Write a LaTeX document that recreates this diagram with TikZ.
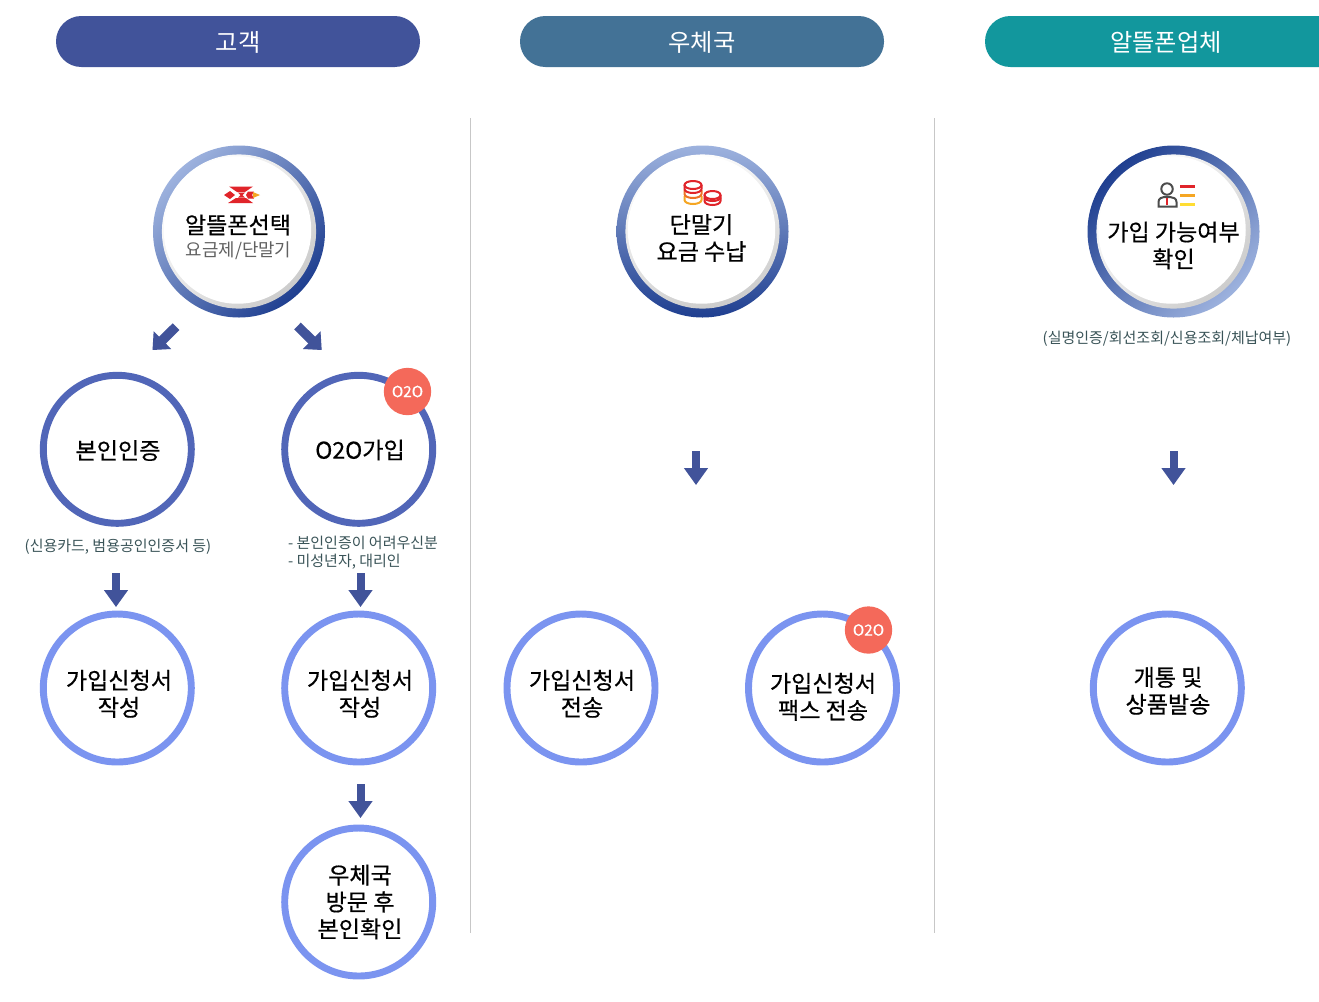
\documentclass[tikz,border=0pt]{standalone}
\usepackage{fontspec}
\setmainfont{Noto Sans CJK KR}
\newfontfamily\semi[FakeBold=0.5]{Noto Sans CJK KR}
\usetikzlibrary{arrows.meta}
\definecolor{pillA}{HTML}{41539A}
\definecolor{pillB}{HTML}{437296}
\definecolor{pillC}{HTML}{12979D}
\definecolor{ringA}{HTML}{5166B8}
\definecolor{ringB}{HTML}{7B94F0}
\definecolor{badgecol}{HTML}{F4695A}
\definecolor{arrowcol}{HTML}{41539A}
\definecolor{capcol}{HTML}{3A5458}
\definecolor{lightring}{HTML}{9DB2DE}
\definecolor{darkring}{HTML}{1F3F90}
\definecolor{icored}{HTML}{E0242A}
\definecolor{icoorange}{HTML}{F5A623}
\definecolor{icoyellow}{HTML}{FFDD33}
\tikzset{
  x=0.75pt,y=-0.75pt,
  pill/.style={rounded corners=19pt},
  pilltext/.style={text=white,font=\fontsize{18.2}{22}\selectfont,inner sep=0pt},
  ringnode/.style={circle,draw,line width=5.2pt,minimum size=111pt,inner sep=0pt,fill=white},
  ringa/.style={ringnode,draw=ringA},
  ringb/.style={ringnode,draw=ringB},
  badge/.style={circle,fill=badgecol,minimum size=35.5pt,inner sep=0pt,text=white,font=\semi\fontsize{11.5}{13}\selectfont},
  bigtext/.style={align=center,inner sep=0pt,text=black,font=\semi\fontsize{17.3}{20.2}\selectfont},
  capt/.style={inner sep=0pt,text=capcol,align=left,font=\fontsize{11.25}{13.5}\selectfont},
  blockarr/.style={draw=arrowcol,line width=6pt,-{Triangle[length=12.75pt,width=17.25pt]}},
  blockshadow/.style={draw=arrowcol!22,line width=6pt,-{Triangle[length=12.75pt,width=17.25pt]},xshift=1.1pt,yshift=-1.1pt},
  diagarr/.style={draw=arrowcol,line width=7.1pt,-{Triangle[length=10.5pt,width=18pt]}},
  diagshadow/.style={draw=arrowcol!22,line width=7.1pt,-{Triangle[length=10.5pt,width=18pt]},xshift=1.1pt,yshift=-1.1pt},
  divider/.style={draw=black!22,line width=0.75pt},
}
\begin{document}
\begin{tikzpicture}
\useasboundingbox (0,0) rectangle (1319,1001);
\clip (0,0) rectangle (1319,1001);
\fill[white] (0,0) rectangle (1319,1001);
% pills
\fill[pill,pillA] (56,16) rectangle (420,67);
\fill[pill,pillB] (520,16) rectangle (884,67);
\fill[pill,pillC] (985,16) rectangle (1380,67);
\node[pilltext] (h1) at (238,42.5) {고객};
\node[pilltext] (h2) at (702,42.5) {우체국};
\node[pilltext] (h3) at (1166,42.5) {알뜰폰업체};
% dividers
\coordinate (d1a) at (470.5,118); \coordinate (d1b) at (470.5,933);
\coordinate (d2a) at (934.5,118); \coordinate (d2b) at (934.5,933);
\draw[divider] (d1a) -- (d1b);
\draw[divider] (d2a) -- (d2b);
% big ring 1
\shade[even odd rule,top color=lightring,bottom color=darkring,shading angle=45]
  (239,231.5) circle[radius=64.5pt] (239,231.5) circle[radius=57.5pt];
\shade[top color=white,bottom color=black!20,shading angle=45] (239,231.5) circle[radius=57.8pt];
\fill[white] (237.5,230) circle[radius=55.3pt];
% big ring 2
\shade[even odd rule,top color=lightring,bottom color=darkring]
  (702.5,231.5) circle[radius=64.5pt] (702.5,231.5) circle[radius=57.5pt];
\shade[top color=white,bottom color=black!20,shading angle=20] (702.5,231.5) circle[radius=57.8pt];
\fill[white] (701.5,230) circle[radius=55.3pt];
% big ring 3
\shade[even odd rule,top color=darkring,bottom color=lightring,shading angle=45]
  (1173.5,231.5) circle[radius=64.5pt] (1173.5,231.5) circle[radius=57.5pt];
\shade[top color=white,bottom color=black!20,shading angle=45] (1173.5,231.5) circle[radius=57.8pt];
\fill[white] (1172,230) circle[radius=55.3pt];
% big texts
\node[bigtext] (t1) at (238,225) {알뜰폰선택};
\node[inner sep=0pt,text=black!62,font=\fontsize{13.4}{16}\selectfont] (t1b) at (238.5,251) {요금제/단말기};
\node[bigtext] (t2) at (701.5,238) {단말기\\요금 수납};
\node[bigtext] (t3) at (1173.5,245.5) {가입 가능여부\\확인};
% icon 1
\fill[icored] (229,186.5) -- (253,186.5) -- (245,192) -- (237,192) -- cycle;
\fill[icored] (228,203) -- (253,203) -- (246,198) -- (236,198) -- cycle;
\fill[icored] (224,195) -- (230,191) -- (235,195) -- (230,199) -- cycle;
\fill[icored] (238,192.5) -- (245,192.5) -- (242.5,195) -- (245,197.5) -- (238,197.5) -- (240.5,195) -- cycle;
\fill[icored] (248,191.5) -- (254,191.5) -- (252,195) -- (254,198.5) -- (248,198.5) -- (246,195) -- cycle;
\fill[icoorange] (253,192) -- (260,195) -- (253,198) -- cycle;
% icon 2
\begin{scope}[line width=1.5pt,fill=none]
\draw[icoorange] (684.5,196) -- (684.5,200) arc[start angle=180,end angle=0,x radius=8.5,y radius=4] -- (701.5,196);
\draw[icoorange!60!icored] (684.5,190) -- (684.5,194) arc[start angle=180,end angle=0,x radius=8.5,y radius=4] -- (701.5,190);
\draw[icored] (684.5,185) -- (684.5,189) arc[start angle=180,end angle=0,x radius=8.5,y radius=4] -- (701.5,185);
\draw[icored] (693,185) ellipse[x radius=8.5,y radius=4];
\draw[icored] (704.5,195) -- (704.5,201) arc[start angle=180,end angle=0,x radius=8,y radius=4] -- (720.5,195);
\draw[icored] (704.5,197.5) arc[start angle=180,end angle=0,x radius=8,y radius=3.5];
\draw[icored] (712.5,195) ellipse[x radius=8,y radius=4];
\end{scope}
% icon 3
\draw[black!70,line width=1.5pt] (1167,189) circle[radius=4.3pt];
\draw[black!70,line width=1.5pt] (1158.5,206.5) -- (1158.5,202) .. controls (1158.5,198) and (1162,197.5) .. (1164,197) -- (1170,197) .. controls (1173,197.5) and (1176.5,198) .. (1176.5,202) -- (1176.5,206.5) -- cycle;
\fill[icored] (1165.8,197.5) rectangle (1168.2,205);
\fill[icored] (1180,185) rectangle (1195,188);
\fill[icoorange] (1180,193.5) rectangle (1195,196.5);
\fill[icoyellow] (1180,202.5) rectangle (1195,205.5);
% arrows
\coordinate (a1s) at (176,326.7); \coordinate (a1e) at (152.5,350);
\coordinate (a2s) at (297.5,326); \coordinate (a2e) at (321.7,350);
\coordinate (a3s) at (116,573); \coordinate (a3e) at (116,607);
\coordinate (a4s) at (360.5,573); \coordinate (a4e) at (360.5,607);
\coordinate (a5s) at (360.5,784); \coordinate (a5e) at (360.5,818);
\coordinate (a6s) at (696,451); \coordinate (a6e) at (696,485);
\coordinate (a7s) at (1173.5,451); \coordinate (a7e) at (1173.5,485);
\foreach \s/\e in {a1s/a1e,a2s/a2e}{
  \draw[diagshadow] (\s) -- (\e);
  \draw[diagarr] (\s) -- (\e);
}
\foreach \s/\e in {a3s/a3e,a4s/a4e,a5s/a5e,a6s/a6e,a7s/a7e}{
  \draw[blockshadow] (\s) -- (\e);
  \draw[blockarr] (\s) -- (\e);
}
% circles
\node[ringa] (n1) at (117.3,449.3) {};
\node[ringa] (n2) at (358.7,449.3) {};
\node[badge] (b1) at (407.5,391.5) {O2O};
\node[ringb] (n3) at (117.3,688) {};
\node[ringb] (n4) at (358.7,688) {};
\node[ringb] (n5) at (358.7,902) {};
\node[ringb] (n6) at (581,688) {};
\node[ringb] (n7) at (822.5,688) {};
\node[badge] (b2) at (868.5,630) {O2O};
\node[ringb] (n8) at (1167.3,688) {};
% circle labels
\node[bigtext] (l1) at (118,450.5) {본인인증};
\node[bigtext] (l2) at (360,450) {O2O가입};
\node[bigtext] (l3) at (119,693.8) {가입신청서\\작성};
\node[bigtext] (l4) at (360,693.8) {가입신청서\\작성};
\node[bigtext] (l5) at (360,902) {우체국\\방문 후\\본인확인};
\node[bigtext] (l6) at (582,693.8) {가입신청서\\전송};
\node[bigtext] (l7) at (823,696.8) {가입신청서\\팩스 전송};
\node[bigtext] (l8) at (1168,690.8) {개통 및\\상품발송};
% captions
\node[capt] (c1) at (118,546.5) {(신용카드, 범용공인인증서 등)};
\node[capt] (c2) at (363,552.5) {- 본인인증이 어려우신분\\- 미성년자, 대리인};
\node[capt] (c3) at (1167,339) {(실명인증/회선조회/신용조회/체납여부)};
\end{tikzpicture}
\end{document}
